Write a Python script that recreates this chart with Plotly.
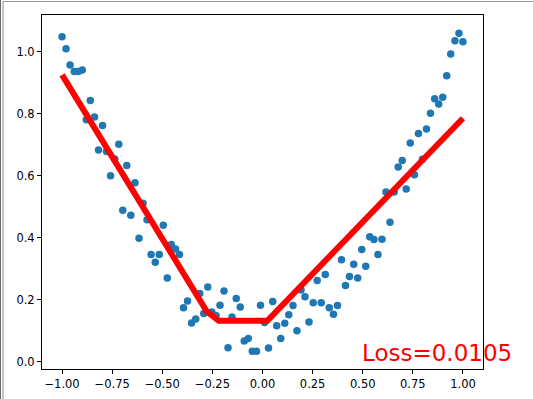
import plotly.graph_objects as go

# ---- data ----
x_values = [
    -1.000, -0.980, -0.960, -0.939, -0.919, -0.899, -0.879, -0.859, -0.838, -0.818,
    -0.798, -0.778, -0.758, -0.737, -0.717, -0.697, -0.677, -0.657, -0.636, -0.616,
    -0.596, -0.576, -0.556, -0.535, -0.515, -0.495, -0.475, -0.455, -0.434, -0.414,
    -0.394, -0.374, -0.354, -0.333, -0.313, -0.293, -0.273, -0.253, -0.232, -0.212,
    -0.192, -0.172, -0.152, -0.131, -0.111, -0.091, -0.071, -0.051, -0.030, -0.010,
    0.010, 0.030, 0.051, 0.071, 0.091, 0.111, 0.131, 0.152, 0.172, 0.192,
    0.212, 0.232, 0.253, 0.273, 0.293, 0.313, 0.333, 0.354, 0.374, 0.394,
    0.414, 0.434, 0.455, 0.475, 0.495, 0.515, 0.535, 0.556, 0.576, 0.596,
    0.616, 0.636, 0.657, 0.677, 0.697, 0.717, 0.737, 0.758, 0.778, 0.798,
    0.818, 0.838, 0.859, 0.879, 0.899, 0.919, 0.939, 0.960, 0.980, 1.000,
]
y_values = [
    1.049, 1.010, 0.958, 0.937, 0.937, 0.942, 0.781, 0.843, 0.790, 0.684,
    0.763, 0.679, 0.601, 0.655, 0.702, 0.489, 0.634, 0.473, 0.578, 0.399,
    0.512, 0.459, 0.347, 0.322, 0.347, 0.441, 0.271, 0.379, 0.364, 0.347,
    0.175, 0.197, 0.126, 0.139, 0.221, 0.156, 0.242, 0.161, 0.150, 0.183,
    0.229, 0.046, 0.145, 0.205, 0.177, 0.068, 0.076, 0.035, 0.035, 0.183,
    0.127, 0.045, 0.195, 0.117, 0.076, 0.125, 0.152, 0.182, 0.101, 0.232,
    0.210, 0.129, 0.191, 0.263, 0.191, 0.282, 0.175, 0.154, 0.182, 0.330,
    0.247, 0.276, 0.315, 0.271, 0.363, 0.309, 0.404, 0.395, 0.347, 0.396,
    0.548, 0.451, 0.548, 0.629, 0.650, 0.558, 0.706, 0.604, 0.737, 0.654,
    0.751, 0.802, 0.849, 0.832, 0.854, 0.923, 0.993, 1.036, 1.060, 1.033,
]
# prediction line (piecewise linear, breakpoints)
pred_x = [-1.0, -0.277, -0.218, 0.024, 1.0]
pred_y = [0.926, 0.162, 0.133, 0.133, 0.786]

loss_text = "Loss=0.0105"

x_tick_vals = [-1.0, -0.75, -0.5, -0.25, 0.0, 0.25, 0.5, 0.75, 1.0]
x_tick_text = ["\u22121.00", "\u22120.75", "\u22120.50", "\u22120.25", "0.00", "0.25", "0.50", "0.75", "1.00"]
y_tick_vals = [0.0, 0.2, 0.4, 0.6, 0.8, 1.0]
y_tick_text = ["0.0", "0.2", "0.4", "0.6", "0.8", "1.0"]

FONT = "DejaVu Sans"

fig = go.Figure()
fig.add_trace(go.Scatter(
    x=x_values, y=y_values, mode="markers",
    marker=dict(color="#1f77b4", size=7.5, line=dict(width=0)),
    showlegend=False, hoverinfo="skip",
))
fig.add_trace(go.Scatter(
    x=pred_x, y=pred_y, mode="lines",
    line=dict(color="red", width=6),
    showlegend=False, hoverinfo="skip",
))

fig.add_annotation(
    x=0.5, y=0.0, xref="x", yref="y",
    text=loss_text, showarrow=False,
    xanchor="left", yanchor="bottom", yshift=-6, xshift=-3,
    font=dict(family=FONT, size=23, color="red"),
)

# window frame lines from the screenshot
L, R, T, B = 42, 50, 15, 30
W, H = 533, 399
pw, ph = W - L - R, H - T - B

def px(x):
    return (x - L) / pw

def py(y):
    return (H - B - y) / ph

fig.add_shape(type="line", xref="paper", yref="paper",
              x0=px(0.5), x1=px(0.5), y0=py(0), y1=py(399),
              line=dict(color="#666666", width=1))
fig.add_shape(type="line", xref="paper", yref="paper",
              x0=px(3), x1=px(3), y0=py(1.5), y1=py(399),
              line=dict(color="#888888", width=1))
fig.add_shape(type="line", xref="paper", yref="paper",
              x0=px(3), x1=px(533), y0=py(1.5), y1=py(1.5),
              line=dict(color="#999999", width=1))

axis_common = dict(
    showline=True, mirror=True, linecolor="black", linewidth=1,
    ticks="outside", ticklen=4, tickwidth=1, tickcolor="black",
    showgrid=False, zeroline=False, automargin=False,
    tickfont=dict(family=FONT, size=11.5, color="black"),
)

fig.update_layout(
    width=W, height=H,
    margin=dict(l=L, r=R, t=T, b=B, pad=0, autoexpand=False),
    paper_bgcolor="white", plot_bgcolor="white",
    xaxis=dict(range=[-1.1, 1.1], tickvals=x_tick_vals, ticktext=x_tick_text, **axis_common),
    yaxis=dict(range=[-0.0226, 1.119], tickvals=y_tick_vals, ticktext=y_tick_text, **axis_common),
)

fig.write_html(
    "out.html",
    config={"displayModeBar": False},
    post_script="document.documentElement.style.margin='0';document.body.style.margin='0';document.body.style.padding='0';document.body.style.overflow='hidden';",
)
